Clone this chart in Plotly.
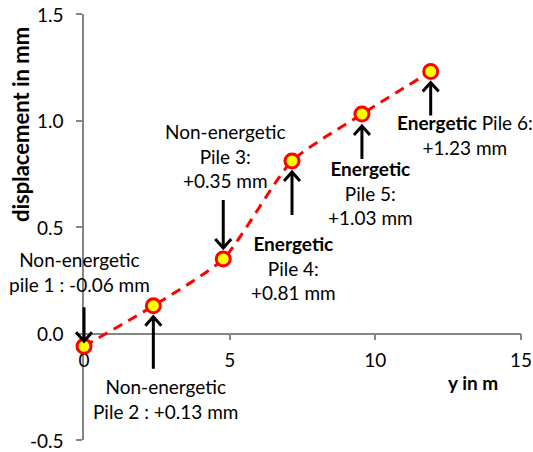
import plotly.graph_objects as go

# Pile positions along the line (m) and measured displacement (mm)
y_pos_m = [0.0, 2.38, 4.78, 7.14, 9.54, 11.9]
displacement_mm = [-0.06, 0.13, 0.35, 0.81, 1.03, 1.23]
pile_labels = [
    "Non-energetic<br>pile 1 : -0.06 mm",
    "Non-energetic<br>Pile 2 : +0.13 mm",
    "Non-energetic<br>Pile 3:<br>+0.35 mm",
    "<b>Energetic</b><br>Pile 4:<br>+0.81 mm",
    "<b>Energetic</b><br>Pile 5:<br>+1.03 mm",
    "<b>Energetic</b> Pile 6:<br>+1.23 mm",
]
x_ticks = [0, 5, 10, 15]
y_ticks = [-0.5, 0.0, 0.5, 1.0, 1.5]
y_tick_text = [f"{v:.1f}" for v in y_ticks]

# Label placement relative to each point (pixels: dx right, dy up)
label_offsets = [(-5, 74), (12, -93), (2, 103), (1, -107), (9, -79), (34, -63)]
# Arrow geometry relative to each point (pixels): tip offset, tail offset (up positive)
arrow_geom = [(5, 39), (-11, -63), (11, 59), (-11, -54), (-12, -45), (-11, -44)]

FONT = "Lato"
FS = 19

W, H = 533, 452
ML, MR, MT, MB = 84, 12, 14, 12
pw, ph = W - ML - MR, H - MT - MB
x_rng = [x_ticks[0], x_ticks[-1]]
y_rng = [y_ticks[0], y_ticks[-1]]


def to_paper_x(v):
    return (v - x_rng[0]) / (x_rng[1] - x_rng[0])


def to_paper_y(v):
    return (v - y_rng[0]) / (y_rng[1] - y_rng[0])


fig = go.Figure()
fig.add_trace(go.Scatter(
    x=y_pos_m, y=displacement_mm,
    mode="lines+markers",
    line=dict(color="#FF0000", width=3, dash="10px,7px", shape="spline", smoothing=0.6),
    marker=dict(size=14, color="#FFFF00", line=dict(color="#FF0000", width=3)),
    cliponaxis=False,
    showlegend=False,
))

annotations = []
shapes = []
for xv, yv, txt, (dx, dy), (tip, tail) in zip(y_pos_m, displacement_mm, pile_labels,
                                               label_offsets, arrow_geom):
    annotations.append(dict(
        x=xv, y=yv, xref="x", yref="y", text=txt, showarrow=False,
        xshift=dx, yshift=dy, align="center",
        xanchor="center", yanchor="middle",
        font=dict(family=FONT, size=FS, color="black"),
    ))
    sgn = 1 if tail > tip else -1  # arrow pointing down when tail above tip
    head = tip + sgn * 9
    path = (f"M0,{tail} L0,{tip} "
            f"M-8,{head} L0,{tip} L8,{head}")
    shapes.append(dict(
        type="path", path=path, xref="paper", yref="paper",
        xsizemode="pixel", ysizemode="pixel",
        xanchor=to_paper_x(xv), yanchor=to_paper_y(yv),
        line=dict(color="black", width=3),
    ))

# y-axis tick labels, right-aligned to the left of the tick marks
for tv, tt in zip(y_ticks, y_tick_text):
    annotations.append(dict(
        x=0, y=tv, xref="paper", yref="y", text=tt, showarrow=False,
        xanchor="right", yanchor="middle", xshift=-19, borderpad=0,
        font=dict(family=FONT, size=FS, color="black"),
    ))

# axis titles (pixel positions converted to paper coordinates)
annotations.append(dict(
    x=(20 - ML) / pw, y=(H - 125 - MB) / ph, xref="paper", yref="paper",
    xanchor="center", yanchor="middle",
    text="<b>displacement in mm</b>", showarrow=False, textangle=-90,
    font=dict(family=FONT, size=22, color="black"),
))
annotations.append(dict(
    x=(473 - ML) / pw, y=(H - 382 - MB) / ph, xref="paper", yref="paper",
    xanchor="center", yanchor="middle",
    text="<b>y in m</b>", showarrow=False,
    font=dict(family=FONT, size=FS, color="black"),
))

fig.update_layout(
    width=W, height=H,
    margin=dict(l=ML, r=MR, t=MT, b=MB, autoexpand=False),
    plot_bgcolor="white", paper_bgcolor="white",
    font=dict(family=FONT, size=FS, color="black"),
    annotations=annotations,
    shapes=shapes,
    xaxis=dict(
        range=x_rng, tickvals=x_ticks, anchor="free",
        position=to_paper_y(0.0),
        showline=True, linecolor="#868686", linewidth=1.5,
        ticks="outside", ticklen=6, tickcolor="#868686", tickwidth=1.5,
        showgrid=False, zeroline=False, layer="below traces",
        ticklabelstandoff=4, ticklabeloverflow="allow",
    ),
    yaxis=dict(
        range=y_rng, tickvals=y_ticks, showticklabels=False,
        showline=True, linecolor="#868686", linewidth=1.5,
        ticks="outside", ticklen=6, tickcolor="#868686", tickwidth=1.5,
        showgrid=False, zeroline=False, layer="below traces",
    ),
)

fig.write_html("out.html")
